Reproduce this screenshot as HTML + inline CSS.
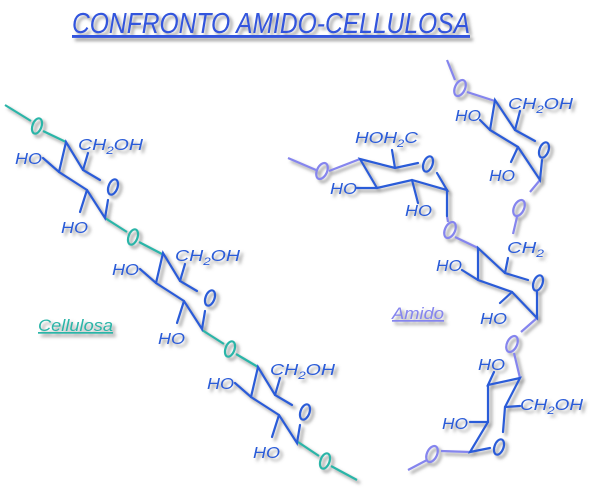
<!DOCTYPE html>
<html><head><meta charset="utf-8"><style>
html,body{margin:0;padding:0;background:#fff;}
svg{display:block;}
text{font-family:"Liberation Sans",sans-serif;font-style:italic;}
</style></head><body>
<svg width="611" height="502" viewBox="0 0 611 502" xmlns="http://www.w3.org/2000/svg">
<defs>
<filter id="sh" x="-20%" y="-20%" width="140%" height="140%">
<feDropShadow dx="3" dy="3" stdDeviation="1.6" flood-color="#666" flood-opacity="0.7"/>
</filter>
<g id="cu">
<g stroke="#2a5bd8" stroke-width="2.2" fill="none" stroke-linecap="round">
<polyline points="59,172 66,142 83,170 100,180"/>
<polyline points="43,158 59,172 87,190 105,218 108,200"/>
<line x1="83" y1="170" x2="88" y2="153"/>
<line x1="87" y1="190" x2="80" y2="212"/>
<ellipse cx="113" cy="187" rx="4.5" ry="8" transform="rotate(20 113 187)"/>
</g>
<text x="15" y="164" font-size="16" fill="#2a5bd8" textLength="27" lengthAdjust="spacingAndGlyphs">HO</text>
<text x="78" y="150" font-size="16" fill="#2a5bd8" textLength="65" lengthAdjust="spacingAndGlyphs">CH<tspan font-size="11" dy="4">2</tspan><tspan dy="-4">OH</tspan></text>
<text x="61" y="233" font-size="16" fill="#2a5bd8" textLength="27" lengthAdjust="spacingAndGlyphs">HO</text>
</g>
</defs>
<g filter="url(#sh)">
<text x="72" y="33" font-size="29" fill="#3355dd" textLength="398" lengthAdjust="spacingAndGlyphs" text-decoration="underline">CONFRONTO AMIDO-CELLULOSA</text>
<text x="38" y="331" font-size="17" fill="#2bb5a8" text-decoration="underline" textLength="75" lengthAdjust="spacingAndGlyphs">Cellulosa</text>
<text x="392" y="319" font-size="17" fill="#8585ee" text-decoration="underline" textLength="52" lengthAdjust="spacingAndGlyphs">Amido</text>

<g stroke="#2bb5a8" stroke-width="2.2" fill="none">
<line x1="5" y1="105" x2="31" y2="121"/><line x1="43" y1="131" x2="66" y2="142"/>
<line x1="105" y1="218" x2="127" y2="232"/><line x1="139" y1="242" x2="162" y2="254"/>
<line x1="202" y1="330" x2="224" y2="344"/><line x1="236" y1="354" x2="258" y2="367"/>
<line x1="298" y1="442" x2="319" y2="456"/><line x1="331" y1="466" x2="357" y2="480"/>
<ellipse cx="37" cy="126" rx="4.5" ry="8" transform="rotate(20 37 126)"/>
<ellipse cx="133" cy="237" rx="4.5" ry="8" transform="rotate(20 133 237)"/>
<ellipse cx="230" cy="349" rx="4.5" ry="8" transform="rotate(20 230 349)"/>
<ellipse cx="325" cy="461" rx="4.5" ry="8" transform="rotate(20 325 461)"/>
</g>
<use href="#cu"/>
<use href="#cu" transform="translate(97,111)"/>
<use href="#cu" transform="translate(192,225)"/>

<g stroke="#8585ee" stroke-width="2.2" fill="none">
<line x1="288" y1="158" x2="316" y2="170"/><line x1="329" y1="171" x2="360" y2="159"/>
<line x1="447" y1="216" x2="448" y2="222"/><line x1="455" y1="237" x2="478" y2="248"/>
<line x1="447" y1="60" x2="455" y2="80"/><line x1="467" y1="92" x2="495" y2="101"/>
<line x1="540" y1="180" x2="530" y2="192"/><line x1="517" y1="217" x2="513" y2="234"/>
<line x1="537" y1="318" x2="521" y2="332"/><line x1="514" y1="353" x2="520" y2="378"/>
<line x1="470" y1="452" x2="441" y2="451"/><line x1="427" y1="460" x2="408" y2="470"/>
<ellipse cx="322" cy="171" rx="5" ry="8.5" transform="rotate(25 322 171)"/>
<ellipse cx="450" cy="230" rx="5" ry="8.5" transform="rotate(25 450 230)"/>
<ellipse cx="460" cy="88" rx="5" ry="8.5" transform="rotate(25 460 88)"/>
<ellipse cx="519" cy="208" rx="5" ry="8.5" transform="rotate(25 519 208)"/>
<ellipse cx="512" cy="344" rx="5" ry="8.5" transform="rotate(25 512 344)"/>
<ellipse cx="432" cy="454" rx="5" ry="8.5" transform="rotate(25 432 454)"/>
</g>
<g stroke="#2a5bd8" stroke-width="2.2" fill="none" stroke-linecap="round">
<polyline points="377,188 360,159 395,168 418,163"/>
<polyline points="357,188 377,188 412,180 447,190 437,173"/>
<line x1="447" y1="190" x2="447" y2="216"/>
<line x1="395" y1="168" x2="392" y2="150"/>
<line x1="412" y1="180" x2="418" y2="203"/>
<ellipse cx="428" cy="164" rx="4.5" ry="8" transform="rotate(20 428 164)"/>
<polyline points="490,130 495,100 515,130 535,141"/>
<polyline points="480,120 490,130 518,147 540,180 542,160"/>
<line x1="515" y1="130" x2="520" y2="111"/>
<line x1="518" y1="147" x2="511" y2="162"/>
<ellipse cx="544" cy="150" rx="4.5" ry="8" transform="rotate(20 544 150)"/>
<polyline points="478,280 478,248 505,273 528,280"/>
<polyline points="462,270 478,280 512,292 537,318 537,292"/>
<line x1="505" y1="273" x2="508" y2="258"/>
<line x1="512" y1="292" x2="500" y2="303"/>
<ellipse cx="538" cy="283" rx="4.5" ry="8" transform="rotate(20 538 283)"/>
<polyline points="494,372 488,385 520,378 505,407 503,432"/>
<polyline points="488,385 488,422 470,452 490,448"/>
<line x1="470" y1="422" x2="488" y2="422"/>
<line x1="505" y1="407" x2="520" y2="406"/>
<ellipse cx="499" cy="447" rx="4.5" ry="8" transform="rotate(20 499 447)"/>
</g>
<g font-size="16" fill="#2a5bd8">
<text x="355" y="143" textLength="63" lengthAdjust="spacingAndGlyphs">HOH<tspan font-size="11" dy="4">2</tspan><tspan dy="-4">C</tspan></text>
<text x="330" y="194" textLength="27" lengthAdjust="spacingAndGlyphs">HO</text>
<text x="405" y="216" textLength="27" lengthAdjust="spacingAndGlyphs">HO</text>
<text x="455" y="121" textLength="26" lengthAdjust="spacingAndGlyphs">HO</text>
<text x="508" y="109" textLength="65" lengthAdjust="spacingAndGlyphs">CH<tspan font-size="11" dy="4">2</tspan><tspan dy="-4">OH</tspan></text>
<text x="489" y="181" textLength="26" lengthAdjust="spacingAndGlyphs">HO</text>
<text x="507" y="253" textLength="37" lengthAdjust="spacingAndGlyphs">CH<tspan font-size="11" dy="4">2</tspan></text>
<text x="436" y="271" textLength="26" lengthAdjust="spacingAndGlyphs">HO</text>
<text x="480" y="324" textLength="27" lengthAdjust="spacingAndGlyphs">HO</text>
<text x="478" y="370" textLength="27" lengthAdjust="spacingAndGlyphs">HO</text>
<text x="520" y="410" textLength="63" lengthAdjust="spacingAndGlyphs">CH<tspan font-size="11" dy="4">2</tspan><tspan dy="-4">OH</tspan></text>
<text x="442" y="429" textLength="26" lengthAdjust="spacingAndGlyphs">HO</text>
</g>
</g>
</svg>
</body></html>
